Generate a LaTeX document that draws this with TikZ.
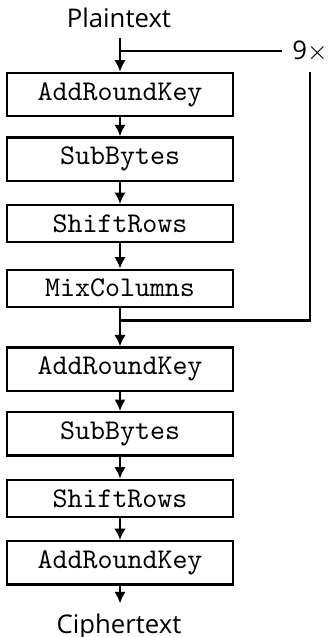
\documentclass[tikz,border=0pt]{standalone}
\usepackage{fontspec}
\setmainfont{Open Sans}
\usetikzlibrary{calc,positioning,arrows.meta}

\begin{document}
\begin{tikzpicture}[
    x=0.35pt,y=-0.35pt,
    node distance=22.6pt,on grid,
    stage/.style={rectangle,draw,thick,minimum width=79pt,font=\ttfamily},
    endtext/.style={font=\fontsize{9}{10}\selectfont},
    flow/.style={thick,-{Latex[length=4pt,width=4pt]}}
    ]

    \useasboundingbox (0,0) rectangle (330,637);

    \node(plain) [endtext,anchor=base] at (119,28) {Plaintext};
    \node(rounds) [endtext] at (310,51) {9$\times$};

    \node(ark_a) [stage] at (120,94.5) {AddRoundKey};
    \node(sb_a) [stage,below=of ark_a] {SubBytes};
    \node(sr_a) [stage,below=of sb_a] {ShiftRows};
    \node(mc) [stage,below=of sr_a] {MixColumns};

    \node(ark_b) [stage,below=28.35pt of mc] {AddRoundKey};
    \node(sb_b) [stage,below=of ark_b] {SubBytes};
    \node(sr_b) [stage,below=of sb_b] {ShiftRows};
    \node(ark_c) [stage,below=of sr_b] {AddRoundKey};

    \node(cipher) [endtext,anchor=base] at (119,633) {Ciphertext};

    \coordinate(loop_top) at (ark_a.north |- rounds);
    \coordinate(loop_bot) at ($(mc.south)!0.33!(ark_b.north)$);

    \foreach \a/\b in {ark_a/sb_a,sb_a/sr_a,sr_a/mc,mc/ark_b,
                       ark_b/sb_b,sb_b/sr_b,sr_b/ark_c}
      \draw[flow] (\a) -- (\b);
    \draw[flow] (plain.south -| ark_a.north) -- (ark_a);
    \draw[flow] (ark_c) -- (cipher.north -| ark_c.south);

    \draw[thick] (loop_top) -- (rounds);
    \draw[thick] (rounds) |- (loop_bot);

  \end{tikzpicture}
\end{document}
